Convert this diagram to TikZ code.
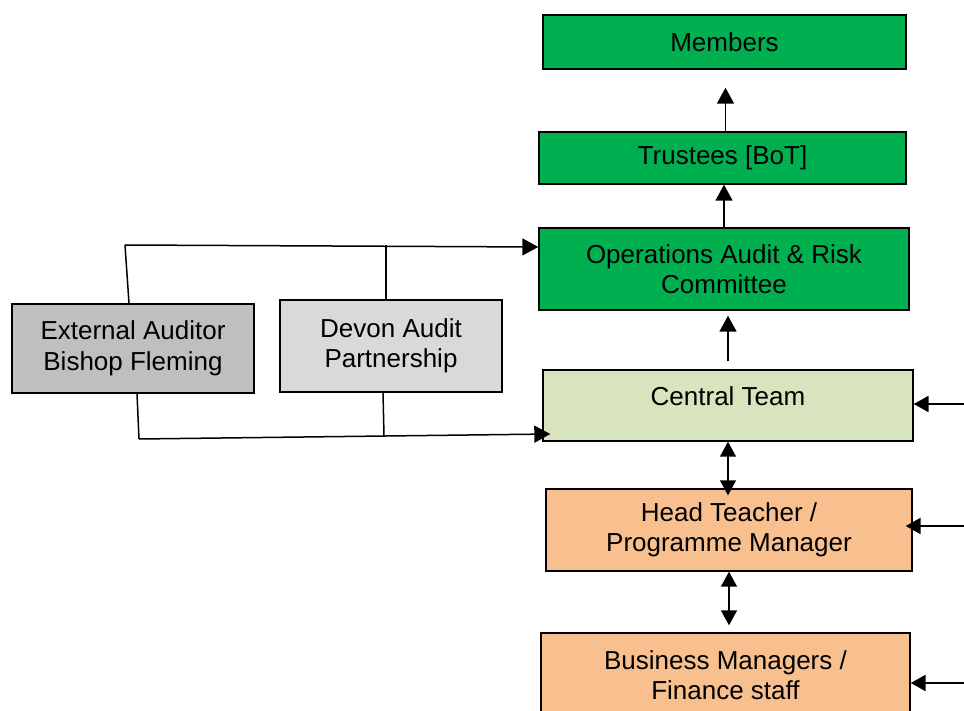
\documentclass[tikz,border=0pt]{standalone}
\usepackage{fontspec}
\setmainfont{Liberation Sans}
\usepackage{tikz}
\usetikzlibrary{arrows.meta, positioning}

\definecolor{boardgreen}{HTML}{00B050}
\definecolor{teamgreen}{HTML}{D7E4BD}
\definecolor{schoolorange}{HTML}{F9C08F}
\definecolor{extgrey}{HTML}{BFBFBF}
\definecolor{devongrey}{HTML}{D9D9D9}

\begin{document}
\begin{tikzpicture}[x=1pt, y=-1pt,
    box/.style={draw=black, line width=1.4pt, inner sep=0pt, align=center,
        font=\fontsize{26}{30.5}\selectfont},
    board/.style={box, fill=boardgreen},
    school/.style={box, fill=schoolorange},
    plain/.style={line width=1.5pt},
    link/.style={line width=1.5pt, -{Triangle[length=16pt,width=17pt]}},
    both/.style={line width=1.5pt, {Triangle[length=15pt,width=16pt]}-{Triangle[length=15pt,width=16pt]}},
    feed/.style={line width=2.4pt, -{Triangle[length=15pt,width=16pt]}}]
    \useasboundingbox (0,0) rectangle (964,711);

    % Governance chain
    \node[board, minimum width=363pt, minimum height=54pt] (members) at (724.5,42) {Members};
    \node[board, minimum width=367pt, minimum height=52pt] (trustees) at (722.5,158) {Trustees [BoT]};
    \node[board, minimum width=370pt, minimum height=82pt] (audit) at (724,269) {Operations Audit \& Risk\\Committee};
    \node[box, fill=teamgreen, minimum width=370pt, minimum height=71pt,
        text height=13pt, text depth=13pt] (central) at (728,405.5) {Central Team};
    \node[school, minimum width=366pt, minimum height=82pt] (head) at (729,530) {Head Teacher /\\Programme Manager};
    \node[school, minimum width=369pt, minimum height=84pt] (business) at (725.5,675) {Business Managers /\\Finance staff};

    % Auditors
    \node[box, fill=extgrey, minimum width=242pt, minimum height=89pt] (external) at (133,348.5) {External Auditor\\Bishop Fleming};
    \node[box, fill=devongrey, minimum width=222pt, minimum height=92pt] (devon) at (391,346) {Devon Audit\\Partnership};

    % Reporting upwards
    \draw[link, shorten >=18pt] ([xshift=3pt]trustees.north) -- ([xshift=3pt]trustees.north |- members.south);
    \draw[link] (audit.north) -- (audit.north |- trustees.south);
    \draw[link, shorten <=8pt, shorten >=5pt] (central.north) -- (central.north |- audit.south);
    \draw[both, shorten >=-7pt] (central.south) -- (central.south |- head.north);
    \draw[both, shorten >=7pt] (head.south) -- (head.south |- business.north);

    % Inputs from the right
    \coordinate (feedA) at (964,404);
    \coordinate (feedB) at (964,526);
    \coordinate (feedC) at (964,683);
    \draw[feed] (feedA) -- (central.east |- feedA);
    \draw[feed, shorten >=-7pt] (feedB) -- (head.east |- feedB);
    \draw[feed] (feedC) -- (business.east |- feedC);

    % Audit rails
    \coordinate (railtop) at (125,245);
    \coordinate (railbot) at (139,439);
    \draw[plain] ([xshift=-4pt]external.north) -- (railtop);
    \draw[link] (railtop) -- ([yshift=22pt]audit.west);
    \draw[plain] ([xshift=-5pt]devon.north) -- ([xshift=-5pt]devon.north |- railtop);
    \draw[plain] ([xshift=4pt]external.south) -- (railbot);
    \draw[link] (railbot) -- ([xshift=8pt,yshift=-28.5pt]central.west);
    \draw[plain] ([xshift=-8pt]devon.south) -- ([xshift=-7pt,yshift=3pt]devon.south |- railbot);
\end{tikzpicture}
\end{document}
